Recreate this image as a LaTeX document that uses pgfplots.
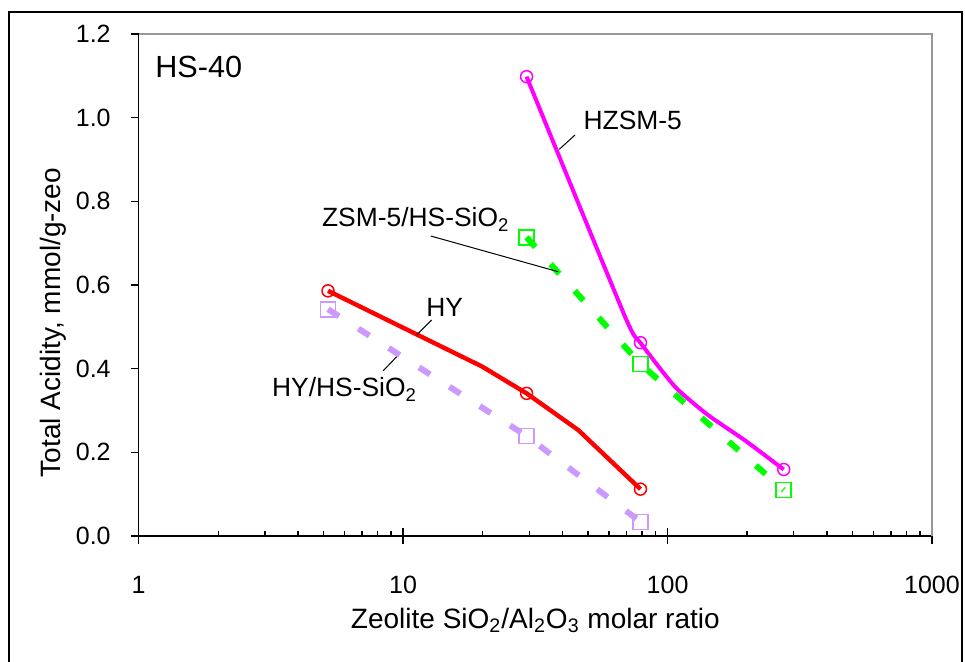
\documentclass[border=0pt]{standalone}
\usepackage{fontspec}
\setmainfont{Liberation Sans}
\usepackage{pgfplots}
\pgfplotsset{compat=1.18}
\definecolor{hzsm}{HTML}{FF00FF}
\definecolor{zsmhs}{HTML}{00FF00}
\definecolor{hy}{HTML}{FF0000}
\definecolor{hyhs}{HTML}{CC99FF}
\definecolor{boxgray}{HTML}{999999}

\begin{document}
\begin{tikzpicture}
\useasboundingbox (-69.35pt,-63pt) rectangle (413.15pt,268pt);
\draw[black, line width=0.6pt] (-64.85pt,-70pt) rectangle (411.65pt,262pt);
\begin{axis}[
  at={(0,0)}, anchor=south west,
  scale only axis, width=396.65pt, height=251pt,
  xmode=log, log basis x=10,
  xmin=1, xmax=1000, ymin=0, ymax=1.2,
  axis lines=left,
  axis line style={-, black, line width=0.75pt},
  tick style={black, line width=0.75pt},
  tick align=outside,
  major tick length=4pt,
  minor tick length=2.5pt,
  every minor x tick/.style={yshift=2.5pt},
  xtick={1,10,100,1000},
  xticklabels={1,10,100,1000},
  minor xtick={2,3,4,5,6,7,8,9,20,30,40,50,60,70,80,90,200,300,400,500,600,700,800,900},
  extra x ticks={1,10,100,1000},
  extra x tick labels={},
  extra x tick style={tick align=inside},
  ytick={0,0.2,0.4,0.6,0.8,1.0,1.2},
  yticklabels={0.0,0.2,0.4,0.6,0.8,1.0,1.2},
  xticklabel style={font=\fontsize{12.5}{14}\selectfont, anchor=north, inner sep=0pt, yshift=-16pt},
  yticklabel style={font=\fontsize{12.5}{14}\selectfont, anchor=east, inner sep=0pt, xshift=-9.85pt},
  xlabel={Zeolite SiO\textsubscript{2}/Al\textsubscript{2}O\textsubscript{3} molar ratio},
  xlabel style={font=\fontsize{14}{16}\selectfont, at={(axis description cs:0.5,0)}, anchor=base, yshift=-46.15pt, inner sep=0pt},
  ylabel={Total Acidity, mmol/g-zeo},
  ylabel style={font=\fontsize{14}{16}\selectfont, at={(axis description cs:-0.0992,0.4253)}, anchor=base, inner sep=0pt},
  clip=false,
]
% HZSM-5
\addplot[hzsm, line width=2pt, no marks, smooth, tension=0.35] coordinates {
  (29.3,1.098) (69.1,0.524) (79,0.462) (106.6,0.357) (142.3,0.289) (195.7,0.229) (275,0.159)};
\addplot[hzsm, only marks, mark=o, mark size=3pt, mark options={line width=0.75pt, fill=none}] coordinates {
  (29.3,1.098) (79,0.462) (275,0.159)};
% ZSM-5/HS-SiO2
\addplot[zsmhs, line width=3pt, line cap=butt, dash pattern=on 6.5pt off 11.5pt, no marks] coordinates {
  (29.3,0.714) (79,0.411) (275,0.110)};
\addplot[zsmhs, only marks, mark=square, mark size=3.75pt, mark options={line width=0.75pt, fill=none, solid}] coordinates {
  (29.3,0.714) (79,0.411) (275,0.110)};
% HY
\addplot[hy, line width=2.2pt, no marks] coordinates {
  (5.2,0.586) (19.9,0.405) (29.3,0.341) (46,0.253) (79,0.112)};
\addplot[hy, only marks, mark=o, mark size=3pt, mark options={line width=0.75pt, fill=none}] coordinates {
  (5.2,0.586) (29.3,0.341) (79,0.112)};
% HY/HS-SiO2
\addplot[hyhs, line width=3pt, line cap=butt, dash pattern=on 6.5pt off 11.5pt, no marks] coordinates {
  (5.2,0.542) (29.3,0.239) (79,0.034)};
\addplot[hyhs, only marks, mark=square, mark size=3.75pt, mark options={line width=0.75pt, fill=none, solid}] coordinates {
  (5.2,0.542) (29.3,0.239) (79,0.034)};

% plot area top/right border
\draw[boxgray, line width=1pt] (axis description cs:0,1) -- (axis description cs:1,1) -- (axis description cs:1,0);

% labels
\node[anchor=base west, inner sep=0pt, font=\fontsize{15.3}{18}\selectfont] at (axis description cs:0.0205,0.9137) {HS-40};
\node[anchor=base west, inner sep=0pt, font=\fontsize{13.2}{15}\selectfont] at (axis description cs:0.5604,0.8102) {HZSM-5};
\node[anchor=base west, inner sep=0pt, font=\fontsize{13.2}{15}\selectfont] at (axis description cs:0.2307,0.6161) {ZSM-5/HS-SiO\textsubscript{2}};
\node[anchor=base west, inner sep=0pt, font=\fontsize{13.2}{15}\selectfont] at (axis description cs:0.3622,0.4369) {HY};
\node[anchor=base west, inner sep=0pt, font=\fontsize{13.2}{15}\selectfont] at (axis description cs:0.1677,0.2775) {HY/HS-SiO\textsubscript{2}};

% leader lines
\draw[black, line width=0.5pt] (axis description cs:0.5500,0.7988) -- (axis description cs:0.5302,0.7703);
\draw[black, line width=0.5pt] (axis description cs:0.3681,0.5976) -- (axis description cs:0.5286,0.5265);
\draw[black, line width=0.5pt] (axis description cs:0.3693,0.4303) -- (axis description cs:0.3504,0.4004);
\draw[black, line width=0.5pt] (axis description cs:0.3083,0.3293) -- (axis description cs:0.3252,0.3572);
\end{axis}
\end{tikzpicture}
\end{document}
